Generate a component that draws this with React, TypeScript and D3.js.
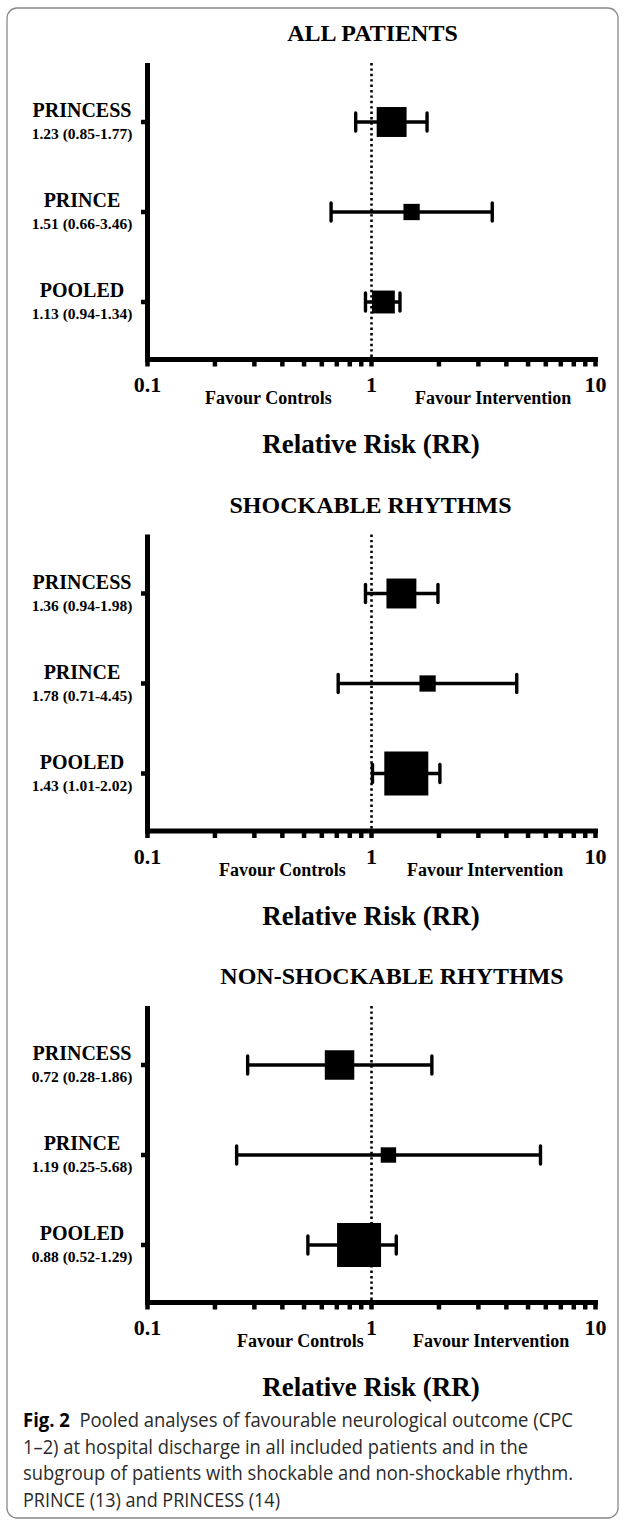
import * as d3 from "d3";

// forest plot data
const panelTitles = ["ALL PATIENTS", "SHOCKABLE RHYTHMS", "NON-SHOCKABLE RHYTHMS"];
const studies = ["PRINCESS", "PRINCE", "POOLED"];
const rrEstimate = [
  [1.23, 1.51, 1.13],
  [1.36, 1.78, 1.43],
  [0.72, 1.19, 0.88],
];
const rrLower = [
  [0.85, 0.66, 0.94],
  [0.94, 0.71, 1.01],
  [0.28, 0.25, 0.52],
];
const rrUpper = [
  [1.77, 3.46, 1.34],
  [1.98, 4.45, 2.02],
  [1.86, 5.68, 1.29],
];
// relative study weight (drives box size)
const studyWeight = [
  [0.68, 0.37, 0.52],
  [0.68, 0.37, 1.0],
  [0.67, 0.35, 1.0],
];
const xTickLabels = [0.1, 1, 10];
const favourLabels = ["Favour Controls", "Favour Intervention"];
const axisTitle = "Relative Risk (RR)";
const captionLines = [
  "Pooled analyses of favourable neurological outcome (CPC",
  "1\u20132) at hospital discharge in all included patients and in the",
  "subgroup of patients with shockable and non-shockable rhythm.",
  "PRINCE (13) and PRINCESS (14)",
];

const W = 624;
const H = 1520;
const panelStep = 471.5;
const serif = "'Liberation Serif', 'Times New Roman', serif";

// small per-panel layout tweaks seen in the figure
const titleCenter = [372.5, 370.5, 392];
const controlsStart = [205, 219, 237];
const interventionStart = [415, 407, 413];
// measured caption line widths
const captionWidths = [550, 505, 550, 257];

const x = d3.scaleLog().domain([0.1, 10]).range([147.5, 595.5]);
const y = d3.scalePoint<string>().domain(studies).range([122, 302]);
const boxSize = d3.scaleLinear().domain([0, 1]).range([0, 44]);

const axisY = 359.5;
const axisTop = 63;

function Panel({ i }: { i: number }) {
  const top = i * panelStep;
  return (
    <g transform={`translate(0, ${top})`}>
      <text
        x={titleCenter[i]}
        y={41}
        textAnchor="middle"
        fontFamily={serif}
        fontWeight="bold"
        fontSize={24}
      >
        {panelTitles[i]}
      </text>

      {/* reference line at RR = 1 */}
      <line
        x1={x(1)}
        x2={x(1)}
        y1={axisTop}
        y2={axisY - 2}
        stroke="#000"
        strokeWidth={2.6}
        strokeDasharray="2.4,3"
      />

      {/* y axis */}
      <line x1={147.5} x2={147.5} y1={axisTop} y2={axisY + 2.5} stroke="#000" strokeWidth={5} />
      {studies.map((s) => (
        <line
          key={s}
          x1={141}
          x2={148}
          y1={y(s)}
          y2={y(s)}
          stroke="#000"
          strokeWidth={4.5}
        />
      ))}

      {/* x axis */}
      <line x1={145} x2={598} y1={axisY} y2={axisY} stroke="#000" strokeWidth={5} />
      {x.ticks().map((t) => (
        <line
          key={t}
          x1={x(t)}
          x2={x(t)}
          y1={axisY}
          y2={axisY + 7}
          stroke="#000"
          strokeWidth={4.5}
        />
      ))}
      {xTickLabels.map((t) => (
        <text
          key={t}
          x={x(t)}
          y={392}
          textAnchor="middle"
          fontFamily={serif}
          fontWeight="bold"
          fontSize={22}
        >
          {t}
        </text>
      ))}
      <text x={controlsStart[i]} y={404} fontFamily={serif} fontWeight="bold" fontSize={18}>
        {favourLabels[0]}
      </text>
      <text x={interventionStart[i]} y={404} fontFamily={serif} fontWeight="bold" fontSize={18}>
        {favourLabels[1]}
      </text>
      <text
        x={371}
        y={453}
        textAnchor="middle"
        fontFamily={serif}
        fontWeight="bold"
        fontSize={27}
      >
        {axisTitle}
      </text>

      {studies.map((s, j) => {
        const cy = y(s) as number;
        const lo = x(rrLower[i][j]);
        const hi = x(rrUpper[i][j]);
        const cx = x(rrEstimate[i][j]);
        const b = boxSize(studyWeight[i][j]);
        return (
          <g key={s}>
            <text
              x={82}
              y={cy - 5}
              textAnchor="middle"
              fontFamily={serif}
              fontWeight="bold"
              fontSize={20}
            >
              {s}
            </text>
            <text
              x={82}
              y={cy + 17}
              textAnchor="middle"
              fontFamily={serif}
              fontWeight="bold"
              fontSize={15.5}
            >
              {`${rrEstimate[i][j].toFixed(2)} (${rrLower[i][j].toFixed(2)}-${rrUpper[i][j].toFixed(2)})`}
            </text>
            <line x1={lo} x2={hi} y1={cy} y2={cy} stroke="#000" strokeWidth={3.6} />
            <line x1={lo} x2={lo} y1={cy - 9} y2={cy + 9} stroke="#000" strokeWidth={3.4} strokeLinecap="round" />
            <line x1={hi} x2={hi} y1={cy - 9} y2={cy + 9} stroke="#000" strokeWidth={3.4} strokeLinecap="round" />
            <rect x={cx - b / 2} y={cy - b / 2} width={b} height={b} fill="#000" />
          </g>
        );
      })}
    </g>
  );
}

export default function App() {
  return (
    <svg
      width={W}
      height={H}
      style={{ position: "absolute", left: 0, top: 0, background: "#fff" }}
    >
      <rect x={7} y={8} width={611} height={1510} rx={10} fill="#fff" stroke="#888" strokeWidth={1.3} />
      {panelTitles.map((_, i) => (
        <Panel key={i} i={i} />
      ))}
      <g fontFamily="'Open Sans', 'Noto Sans', sans-serif" fontSize={19.5} fill="#2a2a2a">
        {captionLines.map((line, k) => (
          <text
            key={k}
            x={23}
            y={1427 + k * 26.7}
            textLength={captionWidths[k]}
            lengthAdjust="spacingAndGlyphs"
          >
            {k === 0 && (
              <tspan fontWeight="bold" fill="#000">
                {"Fig. 2\u00a0\u00a0"}
              </tspan>
            )}
            {line}
          </text>
        ))}
      </g>
    </svg>
  );
}
